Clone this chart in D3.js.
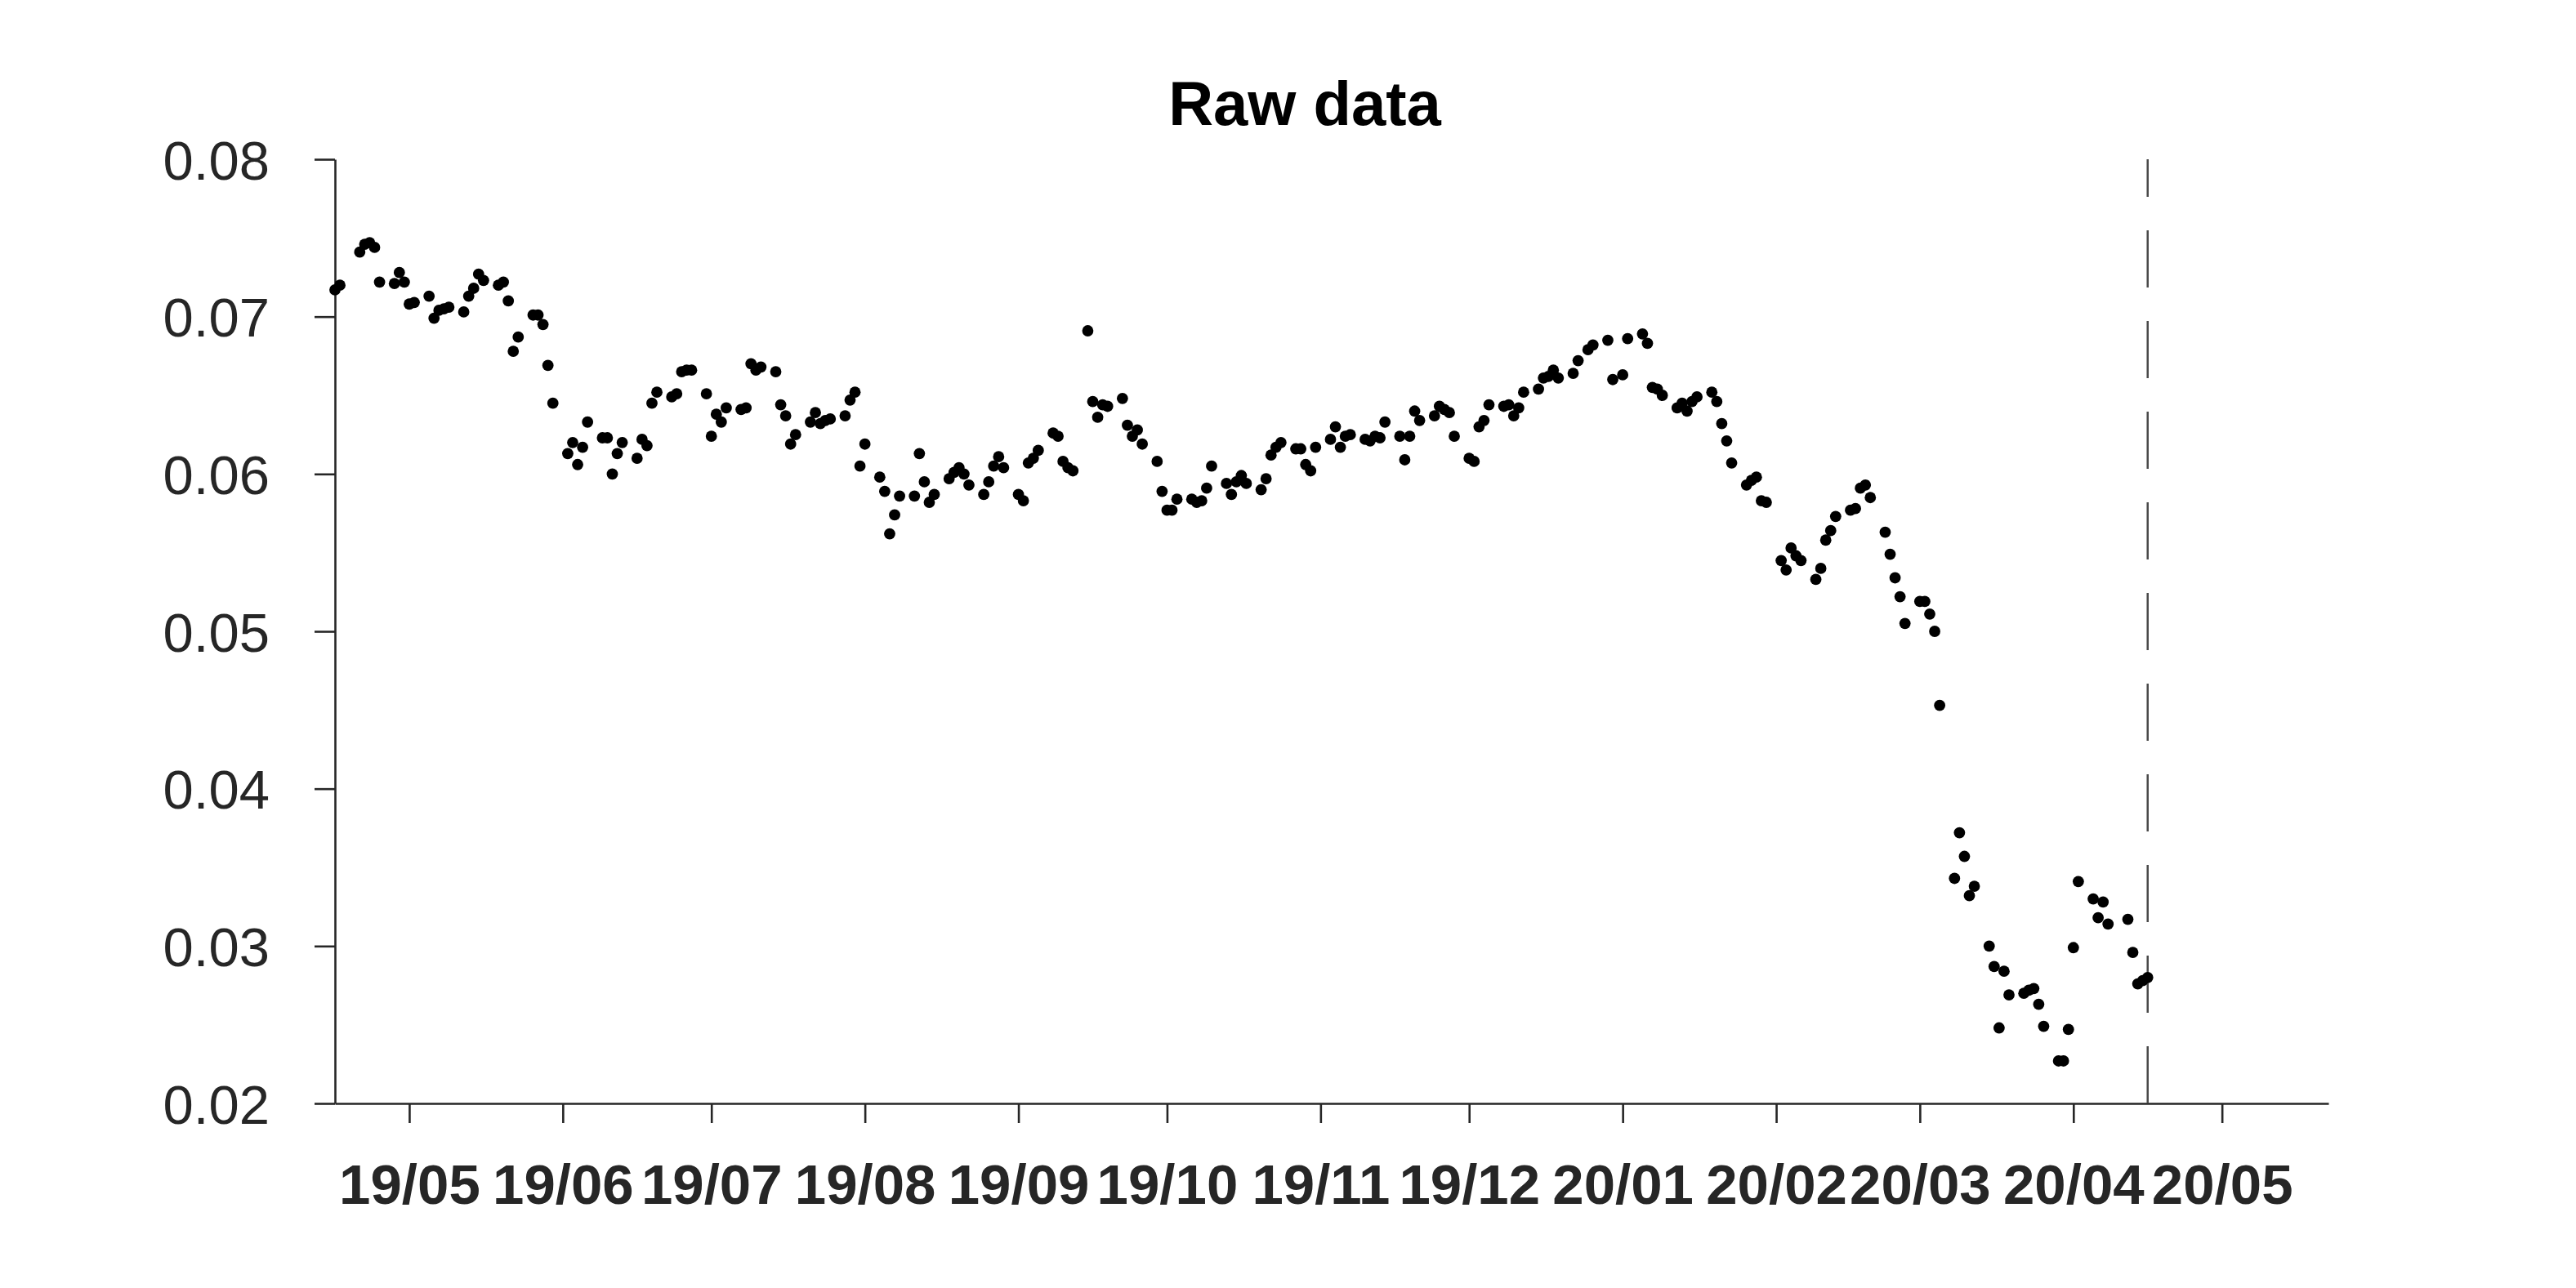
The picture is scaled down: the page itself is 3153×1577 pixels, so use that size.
<!DOCTYPE html>
<html>
<head>
<meta charset="utf-8">
<script src="https://cdn.jsdelivr.net/npm/d3@7"></script>
<style>
  html, body { margin: 0; padding: 0; background: #ffffff; }
  svg { display: block; }
</style>
</head>
<body>
<svg id="chart" width="3153" height="1577"></svg>
<script>
// ---- data ----
const dates = [
"2019-04-16","2019-04-17","2019-04-21","2019-04-22","2019-04-23","2019-04-24","2019-04-25",
"2019-04-28","2019-04-29","2019-04-30","2019-05-01","2019-05-02",
"2019-05-05","2019-05-06","2019-05-07","2019-05-08","2019-05-09",
"2019-05-12","2019-05-13","2019-05-14","2019-05-15","2019-05-16",
"2019-05-19","2019-05-20","2019-05-21","2019-05-22","2019-05-23",
"2019-05-26","2019-05-27","2019-05-28","2019-05-29","2019-05-30",
"2019-06-02","2019-06-03","2019-06-04","2019-06-05","2019-06-06",
"2019-06-09","2019-06-10","2019-06-11","2019-06-12","2019-06-13",
"2019-06-16","2019-06-17","2019-06-18","2019-06-19","2019-06-20",
"2019-06-23","2019-06-24","2019-06-25","2019-06-26","2019-06-27",
"2019-06-30","2019-07-01","2019-07-02","2019-07-03","2019-07-04",
"2019-07-07","2019-07-08","2019-07-09","2019-07-10","2019-07-11",
"2019-07-14","2019-07-15","2019-07-16","2019-07-17","2019-07-18",
"2019-07-21","2019-07-22","2019-07-23","2019-07-24","2019-07-25",
"2019-07-28","2019-07-29","2019-07-30","2019-07-31","2019-08-01",
"2019-08-04","2019-08-05","2019-08-06","2019-08-07","2019-08-08",
"2019-08-11","2019-08-12","2019-08-13","2019-08-14","2019-08-15",
"2019-08-18","2019-08-19","2019-08-20","2019-08-21","2019-08-22",
"2019-08-25","2019-08-26","2019-08-27","2019-08-28","2019-08-29",
"2019-09-01","2019-09-02","2019-09-03","2019-09-04","2019-09-05",
"2019-09-08","2019-09-09","2019-09-10","2019-09-11","2019-09-12",
"2019-09-15","2019-09-16","2019-09-17","2019-09-18","2019-09-19",
"2019-09-22","2019-09-23","2019-09-24","2019-09-25","2019-09-26",
"2019-09-29","2019-09-30","2019-10-01","2019-10-02","2019-10-03",
"2019-10-06","2019-10-07","2019-10-08","2019-10-09","2019-10-10",
"2019-10-13","2019-10-14","2019-10-15","2019-10-16","2019-10-17",
"2019-10-20","2019-10-21","2019-10-22","2019-10-23","2019-10-24",
"2019-10-27","2019-10-28","2019-10-29","2019-10-30","2019-10-31",
"2019-11-03","2019-11-04","2019-11-05","2019-11-06","2019-11-07",
"2019-11-10","2019-11-11","2019-11-12","2019-11-13","2019-11-14",
"2019-11-17","2019-11-18","2019-11-19","2019-11-20","2019-11-21",
"2019-11-24","2019-11-25","2019-11-26","2019-11-27","2019-11-28",
"2019-12-01","2019-12-02","2019-12-03","2019-12-04","2019-12-05",
"2019-12-08","2019-12-09","2019-12-10","2019-12-11","2019-12-12",
"2019-12-15","2019-12-16","2019-12-17","2019-12-18","2019-12-19",
"2019-12-22","2019-12-23","2019-12-25","2019-12-26",
"2019-12-29","2019-12-30","2020-01-01","2020-01-02",
"2020-01-05","2020-01-06","2020-01-07","2020-01-08","2020-01-09",
"2020-01-12","2020-01-13","2020-01-14","2020-01-15","2020-01-16",
"2020-01-19","2020-01-20","2020-01-21","2020-01-22","2020-01-23",
"2020-01-26","2020-01-27","2020-01-28","2020-01-29","2020-01-30",
"2020-02-02","2020-02-03","2020-02-04","2020-02-05","2020-02-06",
"2020-02-09","2020-02-10","2020-02-11","2020-02-12","2020-02-13",
"2020-02-16","2020-02-17","2020-02-18","2020-02-19","2020-02-20",
"2020-02-23","2020-02-24","2020-02-25","2020-02-26","2020-02-27",
"2020-03-01","2020-03-02","2020-03-03","2020-03-04","2020-03-05",
"2020-03-08","2020-03-09","2020-03-10","2020-03-11","2020-03-12",
"2020-03-15","2020-03-16","2020-03-17","2020-03-18","2020-03-19",
"2020-03-22","2020-03-23","2020-03-24","2020-03-25","2020-03-26",
"2020-03-29","2020-03-30","2020-03-31","2020-04-01","2020-04-02",
"2020-04-05","2020-04-06","2020-04-07","2020-04-08",
"2020-04-12","2020-04-13","2020-04-14","2020-04-15","2020-04-16"
];

const values = [
0.0717,0.0720,0.0741,0.0746,0.0747,0.0744,0.0722,
0.0721,0.0728,0.0722,0.0708,0.0709,
0.0713,0.0699,0.0704,0.0705,0.0706,
0.0703,0.0713,0.0718,0.0727,0.0723,
0.0720,0.0722,0.0710,0.0678,0.0687,
0.0701,0.0701,0.0695,0.0669,0.0645,
0.0613,0.0620,0.0606,0.0617,0.0633,
0.0623,0.0623,0.0600,0.0613,0.0620,
0.0610,0.0622,0.0618,0.0645,0.0652,
0.0649,0.0651,0.0665,0.0666,0.0666,
0.0651,0.0624,0.0638,0.0633,0.0642,
0.0641,0.0642,0.0670,0.0666,0.0668,
0.0665,0.0644,0.0637,0.0619,0.0625,
0.0633,0.0639,0.0632,0.0634,0.0635,
0.0637,0.0647,0.0652,0.0605,0.0619,
0.0598,0.0589,0.0562,0.0574,0.0586,
0.0586,0.0613,0.0595,0.0582,0.0587,
0.0597,0.0601,0.0604,0.0600,0.0593,
0.0587,0.0595,0.0605,0.0611,0.0604,
0.0587,0.0583,0.0607,0.0610,0.0615,
0.0626,0.0624,0.0608,0.0604,0.0602,
0.0691,0.0646,0.0636,0.0644,0.0643,
0.0648,0.0631,0.0624,0.0628,0.0619,
0.0608,0.0589,0.0577,0.0577,0.0584,
0.0584,0.0582,0.0583,0.0591,0.0605,
0.0594,0.0587,0.0595,0.0599,0.0594,
0.0590,0.0597,0.0612,0.0617,0.0620,
0.0616,0.0616,0.0606,0.0602,0.0617,
0.0622,0.0630,0.0617,0.0624,0.0625,
0.0622,0.0621,0.0624,0.0623,0.0633,
0.0624,0.0609,0.0624,0.0640,0.0634,
0.0637,0.0643,0.0641,0.0639,0.0624,
0.0610,0.0608,0.0630,0.0634,0.0644,
0.0643,0.0644,0.0637,0.0642,0.0652,
0.0654,0.0661,0.0662,0.0666,0.0661,
0.0664,0.0672,0.0679,0.0682,
0.0685,0.0660,0.0663,0.0686,
0.0689,0.0683,0.0655,0.0654,0.0650,
0.0642,0.0645,0.0640,0.0646,0.0649,
0.0652,0.0646,0.0632,0.0621,0.0607,
0.0593,0.0596,0.0598,0.0583,0.0582,
0.0545,0.0539,0.0553,0.0548,0.0545,
0.0533,0.0540,0.0558,0.0564,0.0573,
0.0577,0.0578,0.0591,0.0593,0.0585,
0.0563,0.0549,0.0534,0.0522,0.0505,
0.0519,0.0519,0.0511,0.0500,0.0453,
0.0343,0.0372,0.0357,0.0332,0.0338,
0.0300,0.0287,0.0248,0.0284,0.0269,
0.0270,0.0272,0.0273,0.0263,0.0249,
0.0227,0.0227,0.0247,0.0299,0.0341,
0.0330,0.0318,0.0328,0.0314,
0.0317,0.0296,0.0276,0.0278,0.0280
];

const yTicks = [0.02, 0.03, 0.04, 0.05, 0.06, 0.07, 0.08];
const xTickDates = ["2019-05-01","2019-06-01","2019-07-01","2019-08-01","2019-09-01","2019-10-01",
  "2019-11-01","2019-12-01","2020-01-01","2020-02-01","2020-03-01","2020-04-01","2020-05-01"];
const xDomain = ["2019-04-16T00:00", "2020-05-22T12:00"];
const markerDate = "2020-04-16";
const titleText = "Raw data";

// ---- drawing ----
(function () {
  const parseD = d3.utcParse("%Y-%m-%d");
  const parseDT = d3.utcParse("%Y-%m-%dT%H:%M");
  const points = dates.map((d, i) => ({ date: parseD(d), value: values[i] }));

  const svg = d3.select("#chart");
  svg.append("rect").attr("width", 3153).attr("height", 1577).attr("fill", "#ffffff");

  const plotLeft = 410, plotRight = 2850, plotTop = 195, plotBottom = 1351;

  const x = d3.scaleUtc().domain(xDomain.map(parseDT)).range([plotLeft, plotRight]);
  const y = d3.scaleLinear().domain([0.02, 0.08]).range([plotBottom, plotTop]);

  const axisColor = "#262626";
  const font = "'Liberation Sans', Arial, Helvetica, sans-serif";

  // x axis
  const xAxis = d3.axisBottom(x)
    .tickValues(xTickDates.map(parseD))
    .tickFormat(d3.utcFormat("%y/%m"))
    .tickSize(24)
    .tickSizeOuter(0);
  const gx = svg.append("g").attr("transform", `translate(0,${plotBottom})`).call(xAxis);
  gx.select(".domain").attr("stroke", axisColor).attr("stroke-width", 2.6);
  gx.selectAll(".tick line").attr("stroke", axisColor).attr("stroke-width", 2.6);
  gx.selectAll(".tick text")
    .attr("y", 123).attr("dy", null)
    .attr("fill", axisColor)
    .style("font-family", font).style("font-size", "69px").style("font-weight", "bold");

  // y axis
  const yAxis = d3.axisLeft(y)
    .tickValues(yTicks)
    .tickFormat(d3.format(".2f"))
    .tickSize(25)
    .tickSizeOuter(0);
  const gy = svg.append("g").attr("transform", `translate(${plotLeft},0)`).call(yAxis);
  gy.select(".domain").attr("stroke", axisColor).attr("stroke-width", 2.6);
  gy.selectAll(".tick line").attr("stroke", axisColor).attr("stroke-width", 2.6);
  gy.selectAll(".tick text")
    .attr("x", -80).attr("dy", "0.36em")
    .attr("fill", axisColor)
    .style("font-family", font).style("font-size", "67px").style("font-weight", "normal");

  // dashed marker line (drawn bottom -> top)
  const mx = x(parseD(markerDate));
  svg.append("line")
    .attr("x1", mx).attr("x2", mx)
    .attr("y1", y(0.02)).attr("y2", y(0.08))
    .attr("stroke", "#4a4a4a").attr("stroke-width", 2.5)
    .attr("stroke-dasharray", "70,41");

  // points
  svg.append("g").selectAll("circle")
    .data(points).join("circle")
    .attr("cx", d => x(d.date))
    .attr("cy", d => y(d.value))
    .attr("r", 6.9)
    .attr("fill", "#000000");

  // title
  svg.append("text")
    .attr("x", 1597).attr("y", 153)
    .attr("text-anchor", "middle")
    .attr("fill", "#000000")
    .style("font-family", font).style("font-size", "76px").style("font-weight", "bold")
    .text(titleText);
})();
</script>
</body>
</html>
